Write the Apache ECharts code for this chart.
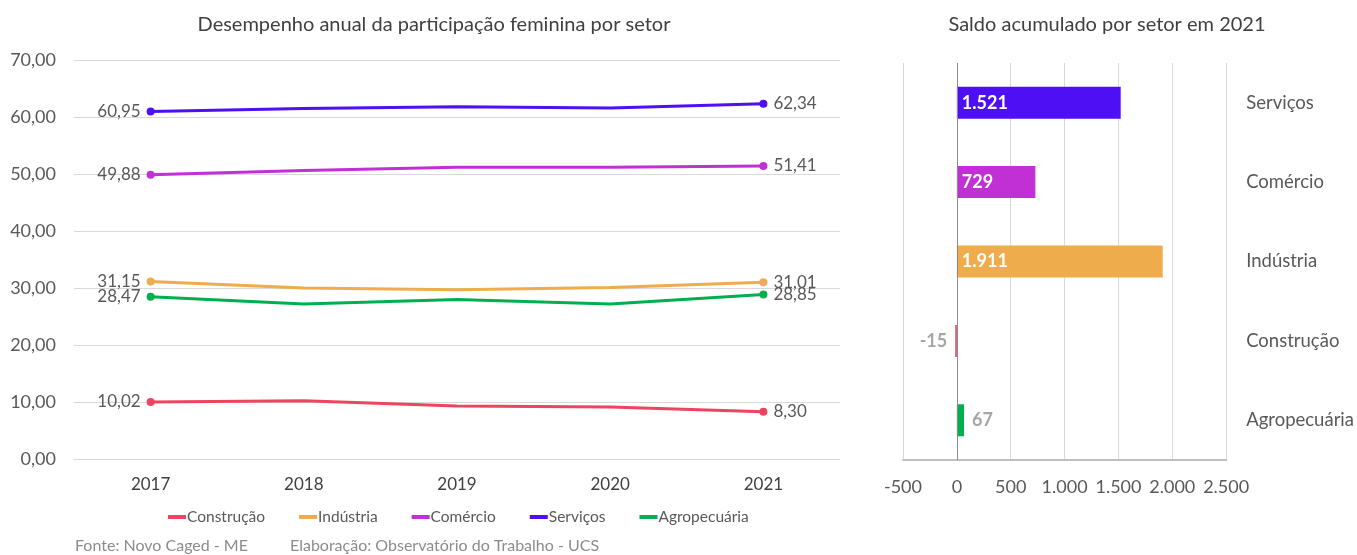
<!DOCTYPE html>
<html>
<head>
<meta charset="utf-8">
<script src="https://cdn.jsdelivr.net/npm/echarts@6/dist/echarts.min.js"></script>
<style>
html,body{margin:0;padding:0;background:#fff;}
#c{width:1357px;height:555px;}
</style>
</head>
<body>
<div id="c"></div>
<script>
// ---- data ----
const years = ['2017', '2018', '2019', '2020', '2021'];
const sectorNames = ['Construção', 'Indústria', 'Comércio', 'Serviços', 'Agropecuária'];
const construcao = [10.02, 10.2, 9.3, 9.13, 8.30];
const industria = [31.15, 30.0, 29.7, 30.1, 31.01];
const comercio = [49.88, 50.6, 51.2, 51.2, 51.41];
const servicos = [60.95, 61.5, 61.8, 61.6, 62.34];
const agropecuaria = [28.47, 27.2, 28.0, 27.2, 28.85];
const sectorColors = ['#ec4560', '#efac4c', '#c130d4', '#4f0ff5', '#00b050'];

const barCategories = ['Serviços', 'Comércio', 'Indústria', 'Construção', 'Agropecuária'];
const barValues = [1521, 729, 1911, -15, 67];
const barColors = ['#4f0ff5', '#c130d4', '#efac4c', '#ec4560', '#00b050'];

const lineTitle = 'Desempenho anual da participação feminina por setor';
const barTitle = 'Saldo acumulado por setor em 2021';
const footer1 = 'Fonte: Novo Caged - ME';
const footer2 = 'Elaboração: Observatório do Trabalho - UCS';

// ---- helpers ----
const FONT = 'Lato';
function fmtDec(v){ return v.toFixed(2).replace('.', ','); }
function fmtThousands(v){
  const s = String(Math.abs(Math.round(v)));
  const out = s.replace(/\B(?=(\d{3})+(?!\d))/g, '.');
  return (v < 0 ? '-' : '') + out;
}

const lineSeriesData = [construcao, industria, comercio, servicos, agropecuaria];
const lineSeries = sectorNames.map((name, i) => ({
  name: name,
  type: 'line',
  xAxisIndex: 0,
  yAxisIndex: 0,
  symbol: 'circle',
  symbolSize: 8,
  lineStyle: { width: 3, color: sectorColors[i] },
  itemStyle: { color: sectorColors[i] },
  emphasis: { disabled: true },
  data: lineSeriesData[i].map((v, j) => {
    const o = { value: v };
    if (j === 0) o.label = { show: true, position: 'left', distance: 6 };
    else if (j === lineSeriesData[i].length - 1) o.label = { show: true, position: 'right', distance: 6 };
    else o.symbolSize = 0;
    return o;
  }),
  label: {
    show: false,
    formatter: p => fmtDec(p.value),
    color: '#595959',
    fontFamily: FONT,
    fontSize: 17
  }
}));

const barSeries = {
  type: 'bar',
  xAxisIndex: 1,
  yAxisIndex: 1,
  barWidth: 32,
  emphasis: { disabled: true },
  data: barValues.map((v, i) => {
    const o = { value: v, itemStyle: { color: barColors[i] } };
    if (Math.abs(v) >= 300) {
      o.label = { show: true, position: 'insideLeft', distance: 5, color: '#ffffff' };
    } else if (v < 0) {
      o.label = { show: true, position: 'left', distance: 8, color: '#a6a6a6' };
    } else {
      o.label = { show: true, position: 'right', distance: 8, color: '#a6a6a6' };
    }
    return o;
  }),
  label: {
    formatter: p => fmtThousands(p.value),
    fontFamily: FONT,
    fontSize: 18,
    fontWeight: 'bold'
  },
  markLine: {
    silent: true,
    symbol: 'none',
    label: { show: false },
    lineStyle: { color: '#8c8c8c', width: 1, type: 'solid' },
    data: [{ xAxis: 0 }]
  }
};

const chart = echarts.init(document.getElementById('c'), null, { renderer: 'canvas' });
chart.setOption({
  backgroundColor: '#ffffff',
  animation: false,
  textStyle: { fontFamily: FONT },
  title: [
    { text: lineTitle, left: 429, top: 10, textAlign: 'center',
      textStyle: { fontFamily: FONT, fontSize: 20, fontWeight: 'normal', color: '#404040' } },
    { text: barTitle, left: 1102, top: 10, textAlign: 'center',
      textStyle: { fontFamily: FONT, fontSize: 20, fontWeight: 'normal', color: '#404040' } },
    { text: footer1, left: 70, top: 533,
      textStyle: { fontFamily: FONT, fontSize: 16, fontWeight: 'normal', color: '#8c8c8c' } },
    { text: footer2, left: 285, top: 533,
      textStyle: { fontFamily: FONT, fontSize: 16, fontWeight: 'normal', color: '#8c8c8c' } }
  ],
  legend: {
    data: sectorNames,
    left: 163,
    top: 504,
    icon: 'rect',
    itemWidth: 18,
    itemHeight: 4,
    itemGap: 34,
    textStyle: { fontFamily: FONT, fontSize: 15.5, color: '#595959', padding: [0, 0, 0, -4] },
    selectedMode: false
  },
  grid: [
    { left: 74, right: 517, top: 60, bottom: 96 },
    { left: 903, right: 130, top: 63, bottom: 95 }
  ],
  xAxis: [
    {
      gridIndex: 0,
      type: 'category',
      data: years,
      boundaryGap: true,
      axisLine: { lineStyle: { color: '#d9d9d9', width: 1 } },
      axisTick: { show: false },
      axisLabel: { color: '#404040', fontFamily: FONT, fontSize: 17, margin: 17 },
      splitLine: { show: false }
    },
    {
      gridIndex: 1,
      type: 'value',
      min: -500,
      max: 2500,
      interval: 500,
      axisLine: { show: true, lineStyle: { color: '#bfbfbf', width: 2 } },
      axisTick: { show: false },
      axisLabel: { color: '#595959', fontFamily: FONT, fontSize: 18, margin: 18,
        formatter: v => fmtThousands(v) },
      splitLine: { show: true, lineStyle: { color: '#d9d9d9', width: 1 } }
    }
  ],
  yAxis: [
    {
      gridIndex: 0,
      type: 'value',
      min: 0,
      max: 70,
      interval: 10,
      axisLine: { show: false },
      axisTick: { show: false },
      axisLabel: { color: '#595959', fontFamily: FONT, fontSize: 18, margin: 18,
        formatter: v => fmtDec(v) },
      splitLine: { show: true, lineStyle: { color: '#d9d9d9', width: 1 } }
    },
    {
      gridIndex: 1,
      type: 'category',
      data: barCategories,
      inverse: true,
      position: 'right',
      axisLine: { show: false, onZero: false },
      axisTick: { show: false },
      axisLabel: { color: '#595959', fontFamily: FONT, fontSize: 18.5, margin: 20, align: 'left' },
      splitLine: { show: false }
    }
  ],
  series: lineSeries.concat([barSeries])
});
</script>
</body>
</html>
